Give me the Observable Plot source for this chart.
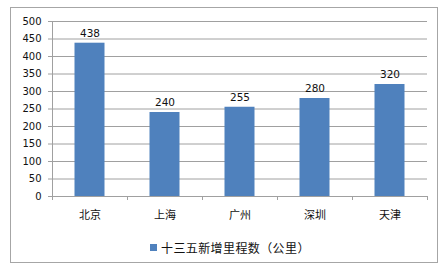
<!DOCTYPE html>
<html>
<head>
<meta charset="utf-8">
<script src="https://cdn.jsdelivr.net/npm/d3@7"></script>
<script src="https://cdn.jsdelivr.net/npm/@observablehq/plot@0.6"></script>
<style>
  html, body { margin: 0; padding: 0; background: #fff; }
  #wrap { position: relative; width: 442px; height: 268px; overflow: hidden; background: #fff; }
  #border { position: absolute; left: 10px; top: 7px; width: 428px; height: 256px; border: 1px solid #a6a6a6; box-sizing: border-box; }
  #chart { position: absolute; left: 0; top: 0; }
  #legend { position: absolute; left: 150px; top: 238px; height: 18px; display: flex; align-items: center;
            font-family: "Noto Sans CJK SC", sans-serif; font-size: 12px; letter-spacing: 0.4px; color: #111; }
  #legend .sw { width: 7px; height: 7px; background: #4f81bd; margin-right: 4px; }
</style>
</head>
<body>
<div id="wrap">
  <div id="border"></div>
  <div id="chart"></div>
  <div id="legend"><span class="sw"></span><span id="legtext"></span></div>
</div>
<script>
const cities = ["北京", "上海", "广州", "深圳", "天津"];
const values = [438, 240, 255, 280, 320];
const seriesName = "十三五新增里程数（公里）";
const yTicks = [0, 50, 100, 150, 200, 250, 300, 350, 400, 450, 500];

const data = cities.map((c, i) => ({city: c, value: values[i]}));
const W = 442, H = 232, mL = 52, mR = 15;
const band = (W - mL - mR) / cities.length;

const plot = Plot.plot({
  width: W,
  height: H,
  marginLeft: mL,
  marginRight: mR,
  marginTop: 21,
  marginBottom: 36,
  style: {fontFamily: "DejaVu Sans, sans-serif", fontSize: "10px", color: "#111", background: "transparent"},
  x: {domain: cities, padding: 0, label: null},
  y: {domain: [0, 500], label: null},
  marks: [
    Plot.gridY(yTicks, {stroke: "#a0a0a0", strokeOpacity: 1, strokeWidth: 1}),
    Plot.ruleY([0], {stroke: "#a0a0a0"}),
    Plot.ruleX([0], {x: () => cities[0], dx: -band / 2, y1: 0, y2: 500, stroke: "#a0a0a0"}),
    Plot.barY(data, {x: "city", y: "value", fill: "#4f81bd", insetLeft: band * 0.3, insetRight: band * 0.3}),
    Plot.text(data, {x: "city", y: "value", text: d => String(d.value), dy: -10, fontSize: 10.5, fill: "#111"}),
    Plot.axisY(yTicks, {tickSize: 4, tickPadding: 7, stroke: "#a0a0a0", fill: "#111", fontSize: 10}),
    Plot.axisX({tickSize: 0, tickPadding: 15, fontFamily: "Noto Sans CJK SC, sans-serif", fontSize: 11, fill: "#111"}),
    Plot.ruleX(cities, {x: d => d, dx: -band / 2, y1: 0, y2: -11.4, stroke: "#a0a0a0"}),
    Plot.ruleX([cities[cities.length - 1]], {x: d => d, dx: band / 2, y1: 0, y2: -11.4, stroke: "#a0a0a0"})
  ]
});
document.getElementById("chart").appendChild(plot);
document.getElementById("legtext").textContent = seriesName;
</script>
</body>
</html>
